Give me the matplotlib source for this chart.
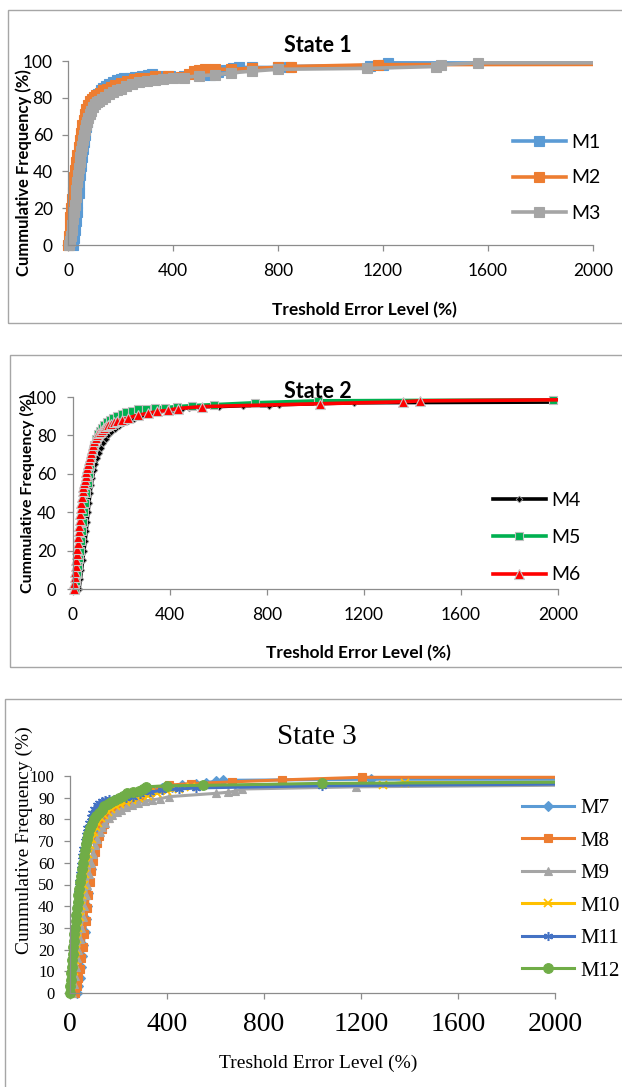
import matplotlib
matplotlib.use("Agg")
import matplotlib.pyplot as plt
from matplotlib.patches import Rectangle

W, H = 622, 1087

# ---------------- data ----------------
# State 1
m1_x = [18, 22, 26, 30, 33, 36, 40, 43, 46, 50, 53, 56, 60, 64, 68, 72, 78, 84, 90, 98, 106, 115, 125, 135, 145, 158, 170, 185, 200, 215, 235, 255, 280, 305, 320, 350, 390, 440, 500, 540, 570, 600, 630, 650, 700, 800, 840, 1150, 1200, 1220, 2300]
m1_y = [0, 4, 8, 13, 18, 23, 28, 33, 38, 43, 48, 52, 56, 60, 64, 67, 70, 73, 76, 78, 80, 82, 84, 85.5, 86.5, 87.5, 88.5, 89.5, 90, 90.5, 91, 91.5, 92, 92.5, 93, 92, 92, 92, 92.5, 92.5, 94, 95, 96, 96.5, 96.5, 96.5, 97, 97.5, 98, 99, 98.8]
m2_x = [0, 3, 6, 9, 12, 15, 18, 21, 24, 28, 32, 36, 40, 45, 50, 55, 60, 65, 70, 76, 82, 90, 98, 108, 120, 135, 150, 165, 180, 200, 225, 250, 275, 300, 330, 380, 430, 460, 480, 500, 520, 560, 620, 700, 800, 850, 1180, 2300]
m2_y = [0, 5, 10, 15, 20, 25, 29, 33, 37, 41, 45, 49, 53, 57, 61, 65, 68, 71, 74, 76, 78, 79.5, 80.5, 81.5, 82.5, 84, 85, 86, 87, 88, 89, 90, 90.5, 91, 92, 92, 91.5, 93, 94.5, 95, 95.5, 95.5, 95.5, 96, 96.5, 97, 98, 98.2]
m3_x = [5, 8, 11, 14, 17, 20, 23, 26, 29, 32, 35, 38, 41, 44, 47, 50, 53, 56, 60, 64, 68, 72, 77, 82, 88, 95, 102, 110, 118, 128, 140, 155, 170, 185, 200, 220, 245, 270, 300, 330, 360, 400, 440, 500, 560, 620, 700, 800, 1140, 1400, 1420, 1560, 2300]
m3_y = [0, 2, 5, 8, 11, 14, 18, 22, 26, 30, 34, 38, 42, 45, 48, 51, 54, 57, 60, 62.5, 65, 67, 69, 71, 73, 75, 76.5, 77.5, 78.5, 79.5, 80.5, 82, 83, 84, 85, 86.5, 87.5, 88.5, 89, 89.5, 90, 90.5, 91, 92, 92.5, 93.5, 94.5, 95.5, 96, 97, 98, 99, 99]

# State 2
m4_x = [25, 30, 35, 40, 45, 50, 54, 58, 62, 66, 70, 75, 80, 86, 92, 100, 108, 116, 125, 135, 145, 158, 172, 188, 205, 225, 250, 280, 310, 350, 390, 420, 450, 480, 520, 600, 700, 810, 850, 1160, 2300]
m4_y = [0, 5, 10, 15, 20, 25, 30, 35, 40, 45, 50, 54, 58, 62, 65, 68, 71, 73.5, 76, 78, 80, 82, 83.5, 85, 86.5, 87.5, 88.5, 90, 91, 92, 93, 92.5, 94, 94.5, 95, 95, 95.5, 95.5, 96, 97, 97.5]
m5_x = [10, 14, 18, 22, 26, 30, 34, 38, 42, 46, 50, 55, 60, 65, 70, 76, 82, 88, 95, 102, 110, 118, 128, 140, 152, 165, 180, 200, 220, 245, 270, 300, 340, 380, 430, 490, 580, 750, 1010, 1980, 2300]
m5_y = [0, 4, 8, 12, 16, 20, 25, 30, 35, 40, 45, 50, 55, 60, 64, 68, 72, 75, 78, 80.5, 82.5, 84, 85.5, 87, 88, 89, 90, 91, 92, 92.5, 93.5, 94, 94.5, 94.5, 95, 95.5, 96, 97, 98, 98.5, 98.5]
m6_x = [3, 5, 7, 9, 11, 13, 15, 17, 19, 21, 23, 25, 27, 29, 31, 34, 37, 40, 43, 46, 49, 52, 55, 58, 62, 66, 70, 74, 78, 83, 88, 93, 98, 104, 110, 118, 126, 135, 145, 155, 168, 182, 200, 225, 268, 310, 348, 390, 432, 533, 1020, 1360, 1430, 2300]
m6_y = [0, 3, 6, 9, 12, 15, 18, 21, 24, 27, 30, 33, 36, 39, 42, 45, 48, 51, 53, 55, 57, 59, 61, 63, 65, 67, 69, 71, 73, 75, 77, 78.5, 80, 81, 82, 83, 84, 85, 85.5, 86, 87, 87.5, 88, 89, 90.5, 91.5, 92.5, 93, 94, 95, 96.5, 97.5, 98, 98.8]

# State 3
m7_x = [30, 35, 40, 45, 50, 55, 60, 65, 70, 75, 80, 86, 92, 98, 105, 112, 120, 130, 140, 152, 165, 180, 200, 220, 245, 270, 300, 340, 380, 420, 460, 520, 560, 600, 630, 1240, 2300]
m7_y = [0, 3, 7, 12, 17, 22, 28, 34, 40, 46, 52, 57, 62, 66, 70, 73, 76, 79, 81, 83, 85, 86.5, 88, 89.5, 90.5, 91.5, 92.5, 93.5, 94.5, 95, 96, 96.5, 97, 97.5, 98, 98.5, 98.5]
m8_x = [22, 28, 34, 40, 46, 52, 58, 64, 70, 76, 82, 88, 95, 102, 110, 120, 130, 142, 155, 170, 185, 200, 220, 240, 260, 290, 330, 370, 407, 500, 669, 873, 1204, 2300]
m8_y = [0, 3, 7, 11, 16, 21, 27, 33, 39, 45, 51, 56, 61, 65, 69, 72.5, 75.5, 78, 80.5, 82.5, 84, 85.5, 87, 88.5, 89.5, 91, 92.5, 94, 95.8, 96.5, 97.3, 98.2, 99.4, 99.4]
m9_x = [10, 15, 20, 25, 30, 35, 40, 46, 52, 58, 64, 70, 77, 85, 93, 102, 112, 122, 134, 146, 160, 175, 192, 210, 230, 255, 280, 310, 340, 370, 410, 600, 650, 680, 710, 1180, 2300]
m9_y = [0, 4, 8, 12, 16, 20, 25, 30, 35, 40, 45, 50, 55, 60, 64, 68, 71, 74, 76.5, 78.5, 80.5, 82, 83.5, 84.5, 85.5, 86.5, 87.5, 88.5, 89, 89.5, 90.5, 92, 92.5, 93, 94, 95, 96]
m10_x = [5, 10, 15, 20, 25, 30, 35, 40, 45, 50, 56, 62, 68, 75, 82, 90, 98, 107, 117, 128, 140, 155, 170, 188, 208, 230, 255, 285, 320, 360, 400, 450, 500, 1290, 1380, 2300]
m10_y = [0, 5, 10, 15, 20, 25, 30, 35, 40, 45, 50, 55, 60, 64, 68, 71, 74, 76.5, 78.5, 80.5, 82, 83.5, 85, 86, 87, 88, 89, 90, 91, 92, 93, 94, 95, 96, 97, 97]
m11_x = [0, 4, 8, 12, 16, 20, 24, 28, 32, 36, 40, 45, 50, 55, 60, 66, 72, 78, 85, 92, 100, 110, 120, 132, 145, 160, 180, 200, 230, 260, 290, 330, 380, 450, 520, 1040, 2300]
m11_y = [0, 6, 12, 18, 24, 30, 36, 41, 46, 51, 55, 59, 63, 66.5, 70, 73, 76, 78.5, 81, 83, 85, 86.5, 87.5, 88.5, 89, 89.5, 89.5, 90, 90, 90.5, 91.5, 92.5, 93.5, 94, 94.5, 95.5, 96.5]
m12_x = [0, 2, 4, 6, 8, 10, 12, 14, 16, 18, 20, 23, 26, 29, 32, 35, 38, 41, 44, 48, 52, 56, 60, 65, 70, 76, 82, 90, 98, 108, 118, 130, 142, 155, 170, 185, 200, 218, 235, 260, 285, 300, 313, 400, 549, 1040, 2300]
m12_y = [0, 3, 6, 9, 12, 15, 18, 21, 24, 27, 30, 33, 36, 39, 42, 45, 48, 51, 54, 57, 60, 63, 66, 68.5, 71, 73.5, 76, 78, 80, 81.5, 83, 84.5, 86, 87, 88, 89, 90, 91, 92, 92.5, 93, 94, 95, 95.5, 95.7, 96.6, 97.3]

x_ticks = [0, 400, 800, 1200, 1600, 2000]
y_ticks_12 = [0, 20, 40, 60, 80, 100]
y_ticks_3 = [0, 10, 20, 30, 40, 50, 60, 70, 80, 90, 100]
titles = ["State 1", "State 2", "State 3"]
x_label = "Treshold Error Level (%)"
y_label = "Cummulative Frequency (%)"

# ---------------- helpers ----------------
def fx(x):
    return x / W

def fy(y):
    return 1 - y / H

def add_axes_px(fig, left, right, top, bottom):
    return fig.add_axes([fx(left), fy(bottom), (right - left) / W, (bottom - top) / H])

def border(fig, x0, y0, x1, y1):
    fig.add_artist(Rectangle((fx(x0), fy(y1)), (x1 - x0) / W, (y1 - y0) / H,
                             transform=fig.transFigure, fill=False,
                             edgecolor="#A6A6A6", lw=1.0))

def style_axes(ax, yticks, font, ytick_size, xtick_size, ypad, xpad):
    for s in ["top", "right"]:
        ax.spines[s].set_visible(False)
    for s in ["left", "bottom"]:
        ax.spines[s].set_color("#8C8C8C")
        ax.spines[s].set_linewidth(0.9)
    ax.set_xlim(0, 2000)
    ax.set_ylim(0, 100)
    ax.set_xticks(x_ticks)
    ax.set_yticks(yticks)
    ax.tick_params(axis="both", direction="out", length=4, width=0.9, color="#8C8C8C")
    ax.tick_params(axis="y", labelsize=ytick_size, pad=ypad)
    ax.tick_params(axis="x", labelsize=xtick_size, pad=xpad)
    for lab in ax.get_xticklabels() + ax.get_yticklabels():
        lab.set_family(font)
    ax.patch.set_alpha(0)

def plot_series(ax, x, y, color, marker, ms, lw, mec=None, mew=0.8, label=None):
    ln, = ax.plot(x, y, color=color, lw=lw, marker=marker, ms=ms,
                  mfc=color, mec=mec if mec else color, mew=mew, label=label)
    clip = Rectangle((-0.03, -0.05), 1.03, 1.1, transform=ax.transAxes)
    ln.set_clip_path(clip)
    return ln

fig = plt.figure(figsize=(W / 100, H / 100), dpi=100)

sans = "Lato"
serif = "Liberation Serif"

# ---------------- Panel 1 ----------------
border(fig, 8, 10, 640, 323)
ax1 = add_axes_px(fig, 68, 593, 61, 245)
style_axes(ax1, y_ticks_12, sans, 12.5, 12.5, 7, 9)
plot_series(ax1, m1_x, m1_y, "#5B9BD5", "s", 6.5, 2.6, label="M1")
plot_series(ax1, m2_x, m2_y, "#ED7D31", "s", 6.5, 2.6, label="M2")
plot_series(ax1, m3_x, m3_y, "#A5A5A5", "s", 6.5, 2.6, label="M3")
fig.text(fx(318), fy(45.5), titles[0], family=sans, weight="bold", fontsize=15.5, ha="center", va="center")
fig.text(fx(364), fy(310), x_label, family=sans, weight="bold", fontsize=12.5, ha="center", va="center")
fig.text(fx(24), fy(173), y_label, family=sans, weight="bold", fontsize=12, ha="center", va="center", rotation=90)
ax1.legend(loc="center left", bbox_to_anchor=(fx(513), fy(178)), bbox_transform=fig.transFigure,
           frameon=False, prop={"family": sans, "size": 14}, handlelength=2.7,
           handletextpad=0.3, labelspacing=0.95, borderpad=0, borderaxespad=0)

# ---------------- Panel 2 ----------------
border(fig, 10, 355, 640, 667)
ax2 = add_axes_px(fig, 73, 558, 397, 589)
style_axes(ax2, y_ticks_12, sans, 12, 12.5, 8, 9)
plot_series(ax2, m4_x, m4_y, "#000000", "D", 3.4, 2.6, mec="#9A9A9A", mew=0.6, label="M4")
plot_series(ax2, m5_x, m5_y, "#00B050", "s", 6.3, 2.6, mec="#BFBFBF", mew=0.8, label="M5")
plot_series(ax2, m6_x, m6_y, "#FF0000", "^", 7.5, 2.6, mec="#C8C8C8", mew=0.8, label="M6")
fig.text(fx(318), fy(391), titles[1], family=sans, weight="bold", fontsize=15.5, ha="center", va="center")
fig.text(fx(358.5), fy(653), x_label, family=sans, weight="bold", fontsize=12.5, ha="center", va="center")
fig.text(fx(27), fy(493), y_label, family=sans, weight="bold", fontsize=11.5, ha="center", va="center", rotation=90)
ax2.legend(loc="center left", bbox_to_anchor=(fx(493), fy(537.5)), bbox_transform=fig.transFigure,
           frameon=False, prop={"family": sans, "size": 14}, handlelength=2.7,
           handletextpad=0.3, labelspacing=1.05, borderpad=0, borderaxespad=0)

# ---------------- Panel 3 ----------------
border(fig, 5, 699, 640, 1100)
ax3 = add_axes_px(fig, 70, 555, 776, 993)
style_axes(ax3, y_ticks_3, serif, 12, 20, 7, 10)
plot_series(ax3, m7_x, m7_y, "#5B9BD5", "D", 5.0, 2.2, label="M7")
plot_series(ax3, m8_x, m8_y, "#ED7D31", "s", 6.3, 2.2, label="M8")
plot_series(ax3, m9_x, m9_y, "#A5A5A5", "^", 6.3, 2.2, label="M9")
plot_series(ax3, m10_x, m10_y, "#FFC000", "x", 5.5, 2.2, mew=1.3, label="M10")
plot_series(ax3, m11_x, m11_y, "#4472C4", (6, 2, 0), 6.5, 2.2, mew=1.1, label="M11")
plot_series(ax3, m12_x, m12_y, "#70AD47", "o", 7.0, 2.2, label="M12")
fig.text(fx(317), fy(737), titles[2], family=serif, fontsize=21, ha="center", va="center")
fig.text(fx(318.5), fy(1063), x_label, family=serif, fontsize=14, ha="center", va="center")
fig.text(fx(24), fy(840.5), y_label, family=serif, fontsize=14, ha="center", va="center", rotation=90)
ax3.legend(loc="center left", bbox_to_anchor=(fx(522), fy(889.5)), bbox_transform=fig.transFigure,
           frameon=False, prop={"family": serif, "size": 15}, handlelength=2.5,
           handletextpad=0.3, labelspacing=0.62, borderpad=0, borderaxespad=0)

fig.savefig("out.png", dpi=100)
